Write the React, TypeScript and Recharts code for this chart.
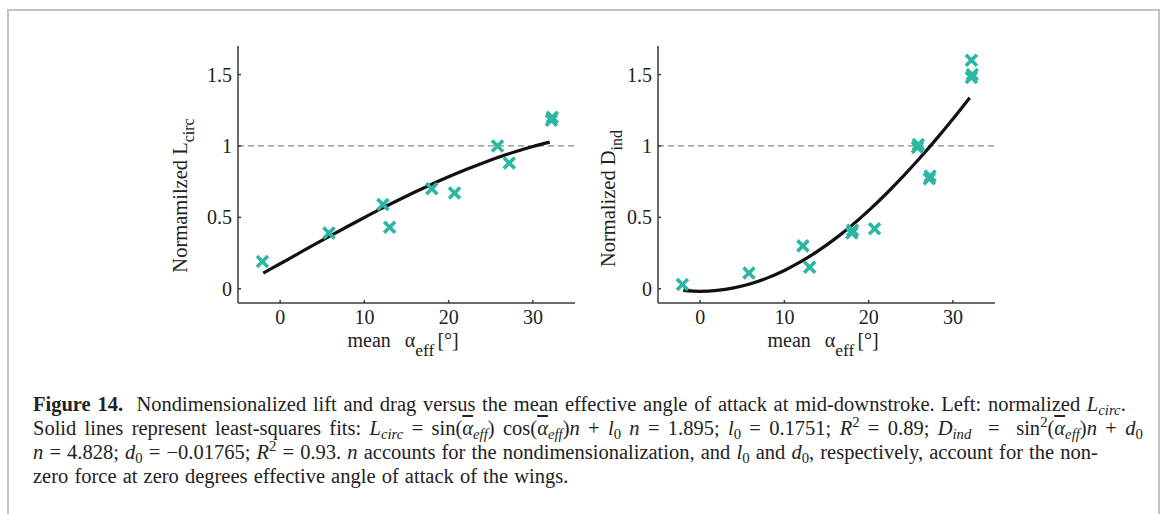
import React from "react";
import {
  ComposedChart,
  Line,
  ReferenceLine,
  Scatter,
  XAxis,
  YAxis,
} from "recharts";

// mean effective angle of attack [deg] for each measured wingbeat
const liftAlpha = [-2.1, 5.8, 12.2, 13.0, 18.0, 20.7, 25.8, 27.2, 32.2, 32.3];
const liftValues = [0.19, 0.39, 0.59, 0.43, 0.7, 0.67, 1.0, 0.88, 1.18, 1.2];

const dragAlpha = [-2.1, 5.8, 12.2, 13.0, 18.0, 18.1, 20.7, 25.8, 25.9, 27.2, 27.3, 32.2, 32.2, 32.3];
const dragValues = [0.03, 0.11, 0.3, 0.15, 0.39, 0.41, 0.42, 0.99, 1.01, 0.77, 0.79, 1.6, 1.48, 1.5];

// least-squares fit curves, sampled every 2 deg
const fitAlpha = [-2, 0, 2, 4, 6, 8, 10, 12, 14, 16, 18, 20, 22, 24, 26, 28, 30, 32];
const liftFit = [0.109, 0.175, 0.241, 0.307, 0.372, 0.436, 0.499, 0.561, 0.62, 0.677, 0.732, 0.784, 0.833, 0.879, 0.922, 0.961, 0.996, 1.027];
const dragFit = [-0.012, -0.018, -0.012, 0.006, 0.035, 0.076, 0.128, 0.191, 0.265, 0.349, 0.443, 0.547, 0.66, 0.781, 0.91, 1.046, 1.189, 1.338];

const alphaTicks = [0, 10, 20, 30];
const forceTicks = [0, 0.5, 1, 1.5];

const SERIF = "'Liberation Serif', 'DejaVu Serif', serif";
const TEAL = "#2bb7a2";
const AXIS = "#3a3a3a";

const zip = (xs: number[], ys: number[]) => xs.map((x, i) => ({ x, y: ys[i] }));

function Cross(props: any) {
  const { cx, cy } = props;
  const r = 5.5;
  return (
    <g stroke={TEAL} strokeWidth={3.6} strokeLinecap="butt">
      <line x1={cx - r} y1={cy - r} x2={cx + r} y2={cy + r} />
      <line x1={cx - r} y1={cy + r} x2={cx + r} y2={cy - r} />
    </g>
  );
}

function XLabel({ viewBox }: any) {
  const cx = viewBox.x + viewBox.width / 2;
  const y = viewBox.y + 44;
  return (
    <text x={cx - 59} y={y} fontFamily={SERIF} fontSize={20} fill="#222">
      <tspan>mean</tspan>
      <tspan dx={14}>α</tspan>
      <tspan dy={9} fontSize={17.5}>eff</tspan>
      <tspan dy={-9} dx={3}>[°]</tspan>
    </text>
  );
}

function YLabel({ viewBox, main, sub, baseX, shift }: any) {
  const cy = viewBox.y + viewBox.height / 2 + shift;
  return (
    <text
      x={baseX}
      y={cy}
      transform={`rotate(-90, ${baseX}, ${cy})`}
      textAnchor="middle"
      fontFamily={SERIF}
      fontSize={20.5}
      fill="#222"
    >
      <tspan>{main}</tspan>
      <tspan dy={7} fontSize={16}>{sub}</tspan>
    </text>
  );
}

interface PanelProps {
  points: { x: number; y: number }[];
  fit: { x: number; y: number }[];
  width: number;
  marginLeft: number;
  main: string;
  sub: string;
  labelX: number;
  labelShift: number;
}

function Panel({ points, fit, width, marginLeft, main, sub, labelX, labelShift }: PanelProps) {
  const tickStyle = { fontFamily: SERIF, fontSize: 20, fill: "#222" };
  return (
    <ComposedChart
      width={width}
      height={330}
      margin={{ top: 16, right: 15, left: marginLeft, bottom: 27 }}
    >
      <XAxis
        type="number"
        dataKey="x"
        domain={[-5, 35]}
        ticks={alphaTicks}
        allowDataOverflow
        height={30}
        tick={tickStyle}
        tickSize={-3}
        tickMargin={10}
        stroke={AXIS}
        strokeWidth={1.5}
        label={<XLabel />}
      />
      <YAxis
        type="number"
        dataKey="y"
        domain={[-0.1, 1.7]}
        ticks={forceTicks}
        allowDataOverflow
        width={60}
        tick={tickStyle}
        tickSize={-3}
        tickMargin={9}
        stroke={AXIS}
        strokeWidth={1.5}
        label={<YLabel main={main} sub={sub} baseX={labelX} shift={labelShift} />}
      />
      <ReferenceLine y={1} stroke="#8a8a8a" strokeWidth={1.2} strokeDasharray="6 4" />
      <Line
        data={fit}
        dataKey="y"
        type="monotone"
        stroke="#111"
        strokeWidth={3.2}
        dot={false}
        isAnimationActive={false}
      />
      <Scatter data={points} dataKey="y" shape={<Cross />} isAnimationActive={false} />
    </ComposedChart>
  );
}

const sub = (t: string, italic = true) => (
  <sub style={{ fontSize: "0.72em", fontStyle: italic ? "italic" : "normal", verticalAlign: "-0.3em", lineHeight: 0 }}>{t}</sub>
);
const sup2 = () => <sup style={{ fontSize: "0.72em", lineHeight: 0 }}>2</sup>;
const abar = () => (
  <>
    (<span style={{ textDecoration: "overline", fontStyle: "italic" }}>α</span>
    {sub("eff")})
  </>
);

export default function App() {
  return (
    <div style={{ position: "absolute", left: 0, top: 0, width: 1168, height: 514, background: "#fff", overflow: "hidden" }}>
      <div
        style={{
          position: "absolute",
          left: 7,
          top: 9,
          width: 1153,
          height: 540,
          border: "2px solid #c2c2c2",
          boxSizing: "border-box",
        }}
      />
      <div style={{ position: "absolute", left: 150, top: 30 }}>
        <Panel
          points={zip(liftAlpha, liftValues)}
          fit={zip(fitAlpha, liftFit)}
          width={440}
          marginLeft={28}
          main="Normamilzed L"
          sub="circ"
          labelX={37}
          labelShift={21}
        />
      </div>
      <div style={{ position: "absolute", left: 590, top: 30 }}>
        <Panel
          points={zip(dragAlpha, dragValues)}
          fit={zip(fitAlpha, dragFit)}
          width={420}
          marginLeft={8}
          main="Normalized D"
          sub="ind"
          labelX={25}
          labelShift={24}
        />
      </div>
      <div
        style={{
          position: "absolute",
          left: 33,
          top: 392,
          fontFamily: SERIF,
          fontSize: 20.5,
          lineHeight: "24px",
          color: "#222",
          whiteSpace: "nowrap",
        }}
      >
        <div style={{ wordSpacing: 1.6 }}>
          <b>Figure 14.</b>&nbsp; Nondimensionalized lift and drag versus the mean effective angle of attack at
          mid-downstroke. Left: normalized <i>L</i>
          {sub("circ")}.
        </div>
        <div style={{ wordSpacing: 3.2 }}>
          Solid lines represent least-squares fits: <i>L</i>
          {sub("circ")} = sin{abar()} cos{abar()}<i>n</i> + <i>l</i>
          {sub("0", false)} <i>n</i> = 1.895; <i>l</i>
          {sub("0", false)} = 0.1751; <i>R</i>
          {sup2()} = 0.89; <i>D</i>
          {sub("ind")} &nbsp;=&nbsp; sin{sup2()}
          {abar()}
          <i>n</i> + <i>d</i>
          {sub("0", false)}
        </div>
        <div style={{ wordSpacing: 1 }}>
          <i>n</i> = 4.828; <i>d</i>
          {sub("0", false)} = −0.01765; <i>R</i>
          {sup2()} = 0.93. <i>n</i> accounts for the nondimensionalization, and <i>l</i>
          {sub("0", false)} and <i>d</i>
          {sub("0", false)}, respectively, account for the non-
        </div>
        <div style={{ wordSpacing: 1 }}>zero force at zero degrees effective angle of attack of the wings.</div>
      </div>
    </div>
  );
}
